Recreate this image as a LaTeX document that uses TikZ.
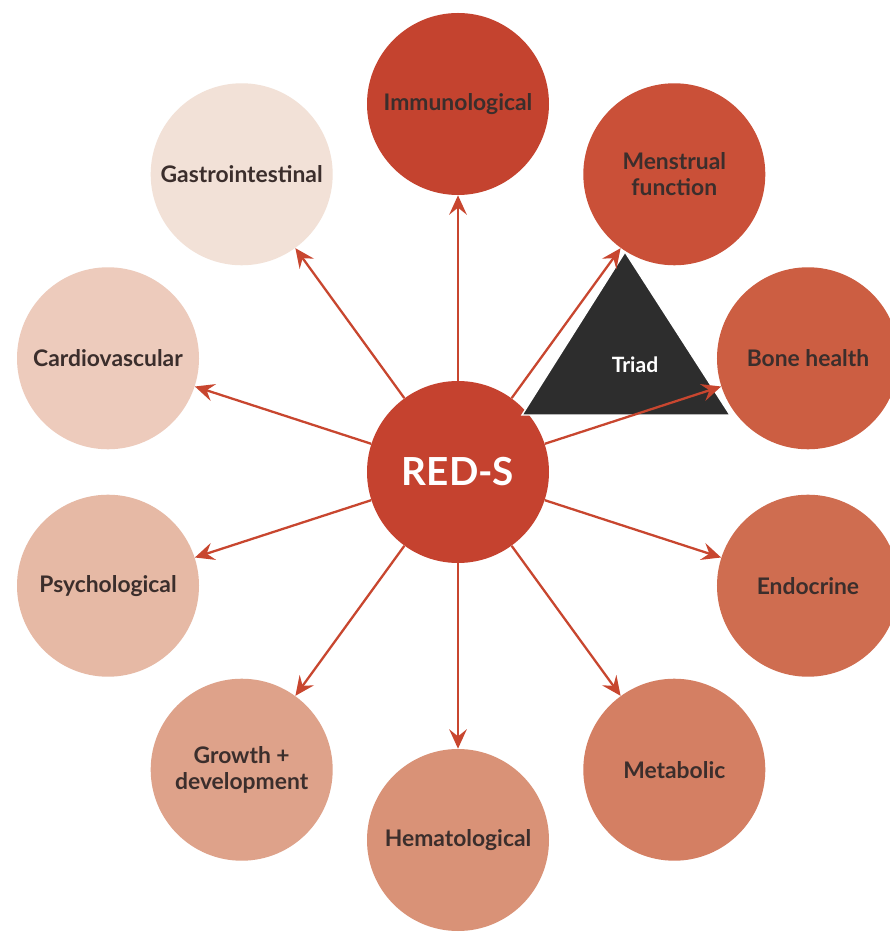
\documentclass[tikz,border=0pt]{standalone}
\usepackage{fontspec}
\setsansfont{Lato}
\usepackage{xcolor}
\usetikzlibrary{arrows.meta,calc,positioning,shapes.geometric}
\definecolor{hubred}{HTML}{C5422F}
\definecolor{linkred}{HTML}{C8462F}
\definecolor{immunoC}{HTML}{C4432F}
\definecolor{menstrC}{HTML}{CA5038}
\definecolor{boneC}{HTML}{CC5E42}
\definecolor{endoC}{HTML}{CF6D50}
\definecolor{metabC}{HTML}{D47F63}
\definecolor{hemaC}{HTML}{D99277}
\definecolor{growthC}{HTML}{DEA28A}
\definecolor{psychC}{HTML}{E6B9A5}
\definecolor{cardioC}{HTML}{EDCBBC}
\definecolor{gastroC}{HTML}{F2E1D7}
\definecolor{labelgray}{HTML}{3B2E2C}
\definecolor{triadgray}{HTML}{2D2D2D}
\tikzset{%
	organ/.style = {circle, minimum size=3.64cm, inner sep=0pt, align=center, text=labelgray, font=\sffamily\bfseries\fontsize{13}{15}\selectfont},
	hub/.style   = {circle, fill=hubred, minimum size=3.64cm, inner sep=0pt, text=white, font=\sffamily\bfseries\fontsize{22}{25}\selectfont},
	link/.style  = {draw=linkred, line width=1.3pt, -{Stealth[length=11pt,width=10pt,inset=4pt]}},
}
\begin{document}
\begin{tikzpicture}
	\fill[white] (-9.16,-9.24) rectangle (8.62,9.44);
	\useasboundingbox (-9.16,-9.24) rectangle (8.62,9.44);
	% hub and the ring of systems
	\node[hub] (reds) at (0,0) {RED-S};
	\node[organ, fill=immunoC] (immuno) at (90:7.36) {Immunological};
	\node[organ, fill=menstrC] (menstr) at (54:7.36) {Menstrual\\function};
	\node[organ, fill=boneC]   (bone)   at (18:7.36) {Bone health};
	\node[organ, fill=endoC]   (endo)   at (-18:7.36) {Endocrine};
	\node[organ, fill=metabC]  (metab)  at (-54:7.36) {Metabolic};
	\node[organ, fill=hemaC]   (hema)   at (-90:7.36) {Hematological};
	\node[organ, fill=growthC] (growth) at (-126:7.36) {Growth +\\development};
	\node[organ, fill=psychC]  (psych)  at (-162:7.36) {Psychological};
	\node[organ, fill=cardioC] (cardio) at (162:7.36) {Cardiovascular};
	\node[organ, fill=gastroC] (gastro) at (126:7.36) {Gastrointestinal};
	% triad
	\filldraw[fill=triadgray, draw=white, line width=0.8pt] (3.34,4.40) -- (1.28,1.14) -- (5.44,1.14) -- cycle;
	\node[text=white, font=\sffamily\bfseries\fontsize{12}{14}\selectfont] (triad) at (3.54,2.14) {Triad};
	% arrows
	\draw[link] (reds) -- (immuno);
	\draw[link] (reds) -- (menstr);
	\draw[link] (reds) -- (bone);
	\draw[link] (reds) -- (endo);
	\draw[link] (reds) -- (metab);
	\draw[link] (reds) -- (hema);
	\draw[link] (reds) -- (growth);
	\draw[link] (reds) -- (psych);
	\draw[link] (reds) -- (cardio);
	\draw[link] (reds) -- (gastro);
\end{tikzpicture}
\end{document}
